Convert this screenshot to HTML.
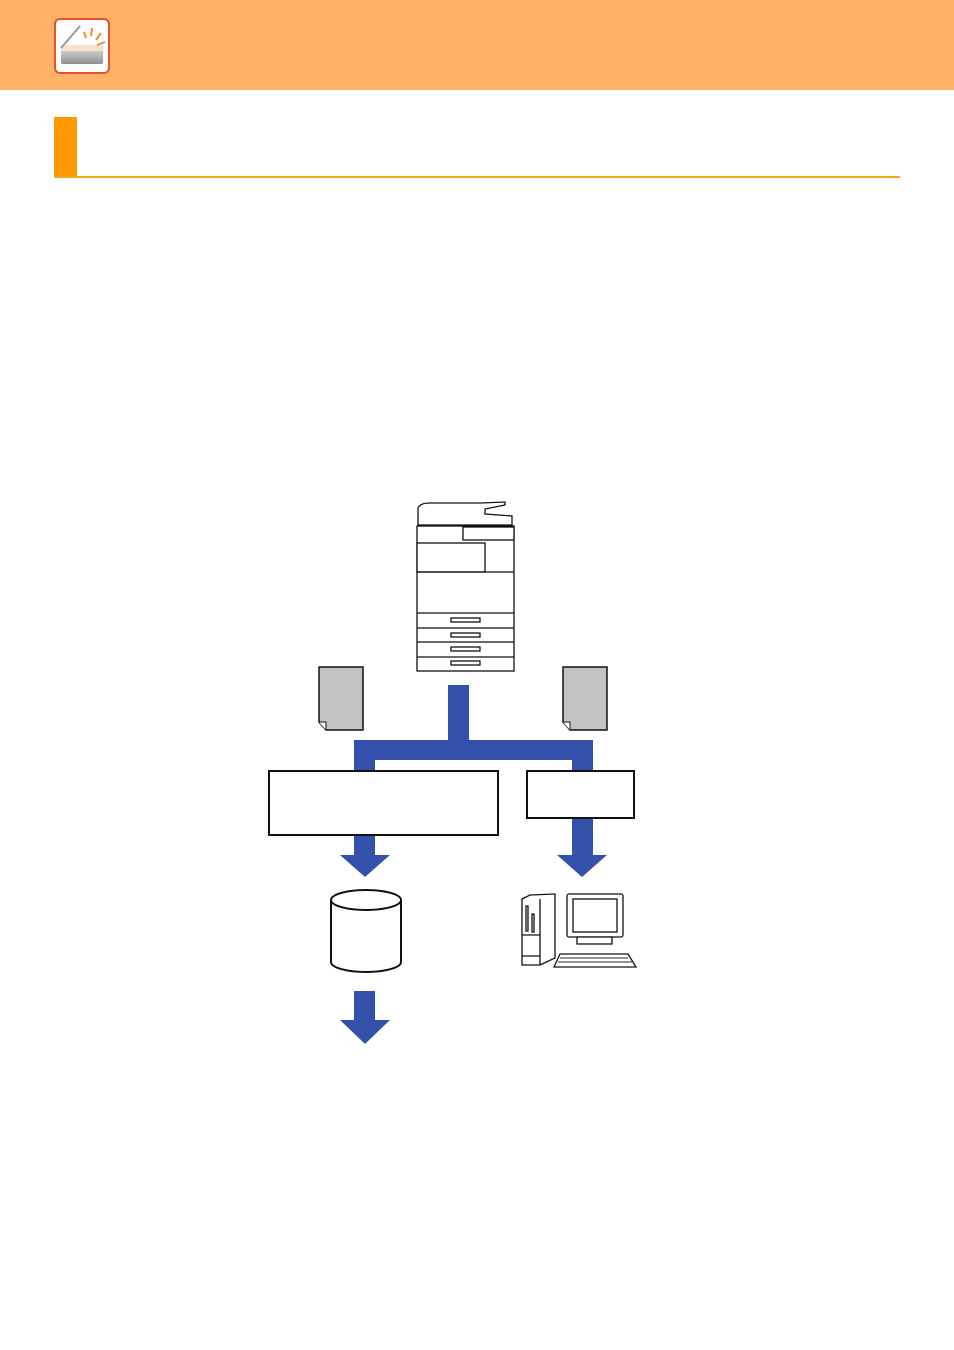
<!DOCTYPE html>
<html><head><style>body{margin:0;background:#fff;width:954px;height:1350px;overflow:hidden}</style></head>
<body>
<svg width="954" height="1350" xmlns="http://www.w3.org/2000/svg" style="position:absolute;left:0;top:0">
<defs><linearGradient id="g" x1="0" y1="0" x2="0" y2="1"><stop offset="0" stop-color="#d0d0d0"/><stop offset="1" stop-color="#8f9091"/></linearGradient></defs>
<rect x="0" y="0" width="954" height="90" fill="#ffb366"/>
<rect x="55" y="19" width="54" height="54" rx="5" fill="#fff" stroke="#e8502a" stroke-width="2"/>
<rect x="61" y="50" width="42" height="14" rx="2" fill="url(#g)"/>
<rect x="61" y="45" width="42" height="6" fill="#f6e2cc"/>
<line x1="61" y1="48" x2="80" y2="26" stroke="#999" stroke-width="2"/>
<g stroke="#f08a24" stroke-width="2"><line x1="86" y1="38" x2="84" y2="32"/><line x1="91" y1="36" x2="92" y2="28"/><line x1="96" y1="40" x2="101" y2="33"/><line x1="97" y1="45" x2="105" y2="42"/></g>
<rect x="54" y="117" width="23" height="61" fill="#ff9900"/>
<rect x="54" y="176" width="846" height="2" fill="#f5a623"/>
<g fill="#fff" stroke="#111" stroke-width="1.3">
<path d="M418 508 Q420 503 430 503 L480 503 L505 502 L505 505 L485 509 L485 514 L512 516 L512 525 L418 525 Z"/>
<rect x="417" y="526" width="97" height="145"/>
<rect x="463" y="527" width="51" height="13"/>
<rect x="417" y="543" width="68" height="29"/>
<line x1="417" y1="572" x2="514" y2="572"/>
<line x1="417" y1="613" x2="514" y2="613"/>
<line x1="417" y1="628" x2="514" y2="628"/>
<line x1="417" y1="642" x2="514" y2="642"/>
<line x1="417" y1="657" x2="514" y2="657"/>
<rect x="451" y="618" width="29" height="4"/>
<rect x="451" y="633" width="29" height="4"/>
<rect x="451" y="647" width="29" height="4"/>
<rect x="451" y="661" width="29" height="4"/>
</g>
<path d="M319 667 L363 667 L363 730 L326 730 L319 722 Z" fill="#c1c2c4" stroke="#111" stroke-width="1.5"/>
<path d="M319 722 L326 722 L326 730" fill="#fff" stroke="#111" stroke-width="1"/>
<path d="M563 667 L607 667 L607 730 L570 730 L563 722 Z" fill="#c1c2c4" stroke="#111" stroke-width="1.5"/>
<path d="M563 722 L570 722 L570 730" fill="#fff" stroke="#111" stroke-width="1"/>
<g fill="#3350ab">
<rect x="448" y="685" width="21" height="60"/>
<rect x="354" y="740" width="239" height="20"/>
<rect x="354" y="740" width="21" height="31"/>
<rect x="572" y="740" width="21" height="31"/>
<rect x="354" y="834" width="21" height="22"/>
<polygon points="340,855 390,855 365,877"/>
<rect x="572" y="817" width="21" height="39"/>
<polygon points="557,855 607,855 582,877"/>
<rect x="354" y="991" width="21" height="30"/>
<polygon points="340,1020 390,1020 365,1044"/>
</g>
<rect x="269" y="771" width="229" height="64" fill="#fff" stroke="#111" stroke-width="2"/>
<rect x="527" y="771" width="107" height="47" fill="#fff" stroke="#111" stroke-width="2"/>
<path d="M331 900 L331 962 A35 10 0 0 0 401 962 L401 900" fill="#fff" stroke="#111" stroke-width="2"/>
<ellipse cx="366" cy="900" rx="35" ry="10" fill="#fff" stroke="#111" stroke-width="2"/>
<g fill="#fff" stroke="#111" stroke-width="1.3">
<path d="M522 899 L530 895 L555 894 L555 958 L540 965 L522 965 Z"/>
<line x1="540" y1="899" x2="540" y2="965"/>
<rect x="526" y="906" width="2" height="25"/><rect x="532" y="914" width="2" height="18"/>
<line x1="522" y1="935" x2="540" y2="935"/><line x1="522" y1="956" x2="540" y2="956"/>
<rect x="567" y="894" width="56" height="43" rx="2"/>
<rect x="573" y="899" width="44" height="33"/>
<rect x="577" y="937" width="35" height="7"/>
<path d="M554 967 L560 954 L628 954 L636 967 Z"/>
<path d="M560 958 L628 958 M558 962 L632 962" stroke="#555"/>
</g>
</svg>
</body></html>
